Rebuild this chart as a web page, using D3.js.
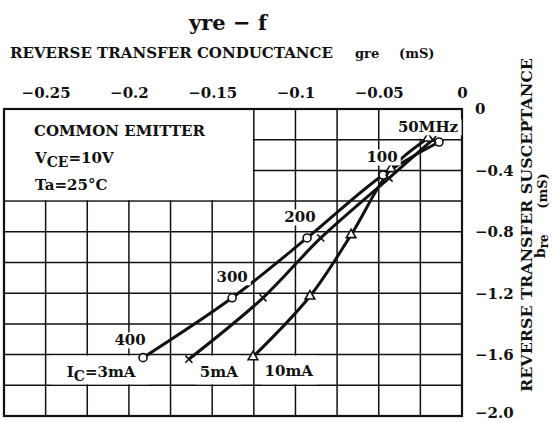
<!DOCTYPE html>
<html>
<head>
<meta charset="utf-8">
<script src="https://cdn.jsdelivr.net/npm/d3@7"></script>
<style>
  body { margin: 0; background: #fff; }
  text { font-family: "DejaVu Serif", serif; font-weight: bold; fill: #111; }
</style>
</head>
<body>
<div class="chart"></div>
<script>
// chart size
const width = 552;
const height = 423;

// axis ticks
const xTicks = [-0.25, -0.2, -0.15, -0.1, -0.05, 0];
const yTicks = [0, -0.4, -0.8, -1.2, -1.6, -2.0];

// frequencies (MHz) of the points
const freqs = [50, 100, 200, 300, 400];

// curves, one point per frequency : [gre, bre]
const ic3mA = [[-0.0138, -0.215], [-0.0474, -0.43], [-0.093, -0.84], [-0.138, -1.23], [-0.1915, -1.62]];
const ic5mA = [[-0.0176, -0.20], [-0.0438, -0.45], [-0.0848, -0.84], [-0.1195, -1.23], [-0.164, -1.63]];
const ic10mA = [[-0.0204, -0.19], [-0.0426, -0.39], [-0.0666, -0.82], [-0.0913, -1.22], [-0.1255, -1.615]];

const series = [
  {name: "3mA", points: ic3mA, marker: "circle"},
  {name: "5mA", points: ic5mA, marker: "times"},
  {name: "10mA", points: ic10mA, marker: "triangle"},
];

// frequency labels on the curves
const freqLabels = [
  {text: "50MHz", g: -0.0204, b: -0.117},
  {text: "100", g: -0.048, b: -0.313},
  {text: "200", g: -0.0973, b: -0.704},
  {text: "300", g: -0.138, b: -1.094},
  {text: "400", g: -0.1993, b: -1.505},
];

// current labels under the curves
const icLabels = [
  {text: "I", sub: "C", rest: "=3mA", g: -0.2167, b: -1.713},
  {text: "5mA", g: -0.146, b: -1.713},
  {text: "10mA", g: -0.104, b: -1.707},
];

// white patches hiding the grid : [g0, g1, b0, b1]
const masks = [
  [-0.275, -0.125, 0, -0.6],
  [-0.040, 0, 0, -0.2],
  [-0.2474, -0.1873, -1.6, -1.8],
  [-0.1603, -0.1321, -1.6, -1.8],
  [-0.1213, -0.0865, -1.6, -1.8],
];

const x = d3.scaleLinear().domain([-0.275, 0]).range([4, 462]);
const y = d3.scaleLinear().domain([0, -2.0]).range([109, 416]);

const svg = d3.select('.chart')
  .append('svg')
  .attr('width', width)
  .attr('height', height);

// grid
const grid = svg.append('g')
  .attr('stroke', '#111')
  .attr('stroke-width', 1.5);

grid.selectAll('.vg')
  .data(d3.range(1, 11).map(i => -0.275 + i * 0.025))
  .join('line')
    .attr('x1', d => x(d)).attr('x2', d => x(d))
    .attr('y1', y(0)).attr('y2', y(-2));

grid.selectAll('.hg')
  .data(d3.range(1, 10).map(i => -i * 0.2))
  .join('line')
    .attr('y1', d => y(d)).attr('y2', d => y(d))
    .attr('x1', x(-0.275)).attr('x2', x(0));

// white masks
svg.append('g')
  .selectAll('rect')
  .data(masks)
  .join('rect')
    .attr('x', d => x(d[0]) + 1)
    .attr('y', d => y(d[2]) + 1)
    .attr('width', d => x(d[1]) - x(d[0]) - 2)
    .attr('height', d => y(d[3]) - y(d[2]) - 2)
    .attr('fill', '#fff');

// frame
svg.append('rect')
  .attr('x', x(-0.275)).attr('y', y(0))
  .attr('width', x(0) - x(-0.275))
  .attr('height', y(-2) - y(0))
  .attr('fill', 'none')
  .attr('stroke', '#111')
  .attr('stroke-width', 2.2);

// axes
const fmtX = d => d === 0 ? '0' : '\u2212' + Math.abs(d);
const fmtY = d => d === 0 ? '0' : '\u2212' + Math.abs(d).toFixed(1);

svg.append('g')
  .attr('transform', `translate(0, ${y(0)})`)
  .call(d3.axisTop(x).tickValues(xTicks).tickFormat(fmtX).tickSize(0).tickPadding(11))
  .call(g => g.select('.domain').remove())
  .call(g => g.selectAll('text').style('font-size', '15px').style('font-family', '"DejaVu Serif", serif').style('font-weight', 'bold'));

svg.append('g')
  .attr('transform', `translate(${x(0)}, 0)`)
  .call(d3.axisRight(y).tickValues(yTicks).tickFormat(fmtY).tickSize(0).tickPadding(13))
  .call(g => g.select('.domain').remove())
  .call(g => g.selectAll('text').style('font-size', '15px').style('font-family', '"DejaVu Serif", serif').style('font-weight', 'bold'))
  .call(g => g.selectAll('.tick:last-of-type text').attr('dy', '0.1em'));

// curves
const line = d3.line()
  .x(d => x(d[0]))
  .y(d => y(d[1]))
  .curve(d3.curveCatmullRom.alpha(0.5));

svg.append('g')
  .selectAll('path')
  .data(series)
  .join('path')
    .attr('d', d => line(d.points))
    .attr('fill', 'none')
    .attr('stroke', '#111')
    .attr('stroke-width', 3);

// markers
const markers = svg.append('g');
series.forEach(s => {
  const g = markers.append('g');
  if (s.marker === 'circle') {
    g.selectAll('circle')
      .data(s.points)
      .join('circle')
        .attr('cx', d => x(d[0]))
        .attr('cy', d => y(d[1]))
        .attr('r', 4)
        .attr('fill', '#fff')
        .attr('stroke', '#111')
        .attr('stroke-width', 1.6);
  } else {
    const sym = s.marker === 'triangle' ? d3.symbolTriangle : d3.symbolTimes;
    g.selectAll('path')
      .data(s.points)
      .join('path')
        .attr('transform', d => `translate(${x(d[0])}, ${y(d[1])})`)
        .attr('d', d3.symbol().type(sym).size(s.marker === 'triangle' ? 40 : 34))
        .attr('fill', s.marker === 'triangle' ? '#fff' : 'none')
        .attr('stroke', '#111')
        .attr('stroke-width', 1.6);
  }
});

// frequency labels with white background
const fl = svg.append('g');
freqLabels.forEach(d => {
  const t = fl.append('text')
    .attr('x', x(d.g))
    .attr('y', y(d.b))
    .attr('dy', '0.36em')
    .attr('text-anchor', 'middle')
    .style('font-size', '15px')
    .text(d.text);
  const bb = t.node().getBBox();
  fl.insert('rect', () => t.node())
    .attr('x', bb.x - 3).attr('y', bb.y + 1)
    .attr('width', bb.width + 6).attr('height', bb.height - 2)
    .attr('fill', '#fff');
});

// current labels
icLabels.forEach(d => {
  const t = svg.append('text')
    .attr('x', x(d.g))
    .attr('y', y(d.b))
    .attr('dy', '0.36em')
    .attr('text-anchor', 'middle')
    .style('font-size', '15px');
  t.append('tspan').text(d.text);
  if (d.sub) {
    t.append('tspan').attr('dy', 4).style('font-size', '14px').text(d.sub);
    t.append('tspan').attr('dy', -4).text(d.rest);
  }
});

// condition box
const cond = svg.append('g').style('font-size', '15px');
cond.append('text').attr('x', 34).attr('y', 136).text('COMMON EMITTER');
const vce = cond.append('text').attr('x', 35).attr('y', 163);
vce.append('tspan').text('V');
vce.append('tspan').attr('dy', 4).style('font-size', '14px').text('CE');
vce.append('tspan').attr('dy', -4).text('=10V');
cond.append('text').attr('x', 35).attr('y', 190).text('Ta=25\u00b0C');

// titles
svg.append('text')
  .attr('x', 228).attr('y', 30)
  .attr('text-anchor', 'middle')
  .style('font-size', '21px')
  .text('yre \u2212 f');

const sub = svg.append('g').style('font-size', '14px');
sub.append('text').attr('x', 10).attr('y', 58)
  .attr('textLength', 323).attr('lengthAdjust', 'spacingAndGlyphs')
  .text('REVERSE TRANSFER CONDUCTANCE');
sub.append('text').attr('x', 355).attr('y', 58).style('font-size', '13px').text('gre');
sub.append('text').attr('x', 399).attr('y', 58).style('font-size', '13px').text('(mS)');

const yTitle = svg.append('g').style('font-size', '14px');
yTitle.append('text')
  .attr('transform', 'translate(532, 225) rotate(-90)')
  .attr('text-anchor', 'middle')
  .attr('textLength', 334).attr('lengthAdjust', 'spacingAndGlyphs')
  .text('REVERSE TRANSFER SUSCEPTANCE');
const bre = yTitle.append('text')
  .attr('transform', 'translate(545, 258) rotate(-90)');
bre.append('tspan').text('b');
bre.append('tspan').attr('dy', 3).style('font-size', '12px').text('re');
yTitle.append('text')
  .attr('transform', 'translate(547, 191) rotate(-90)')
  .attr('text-anchor', 'middle')
  .style('font-size', '13px')
  .text('(mS)');
</script>
</body>
</html>
